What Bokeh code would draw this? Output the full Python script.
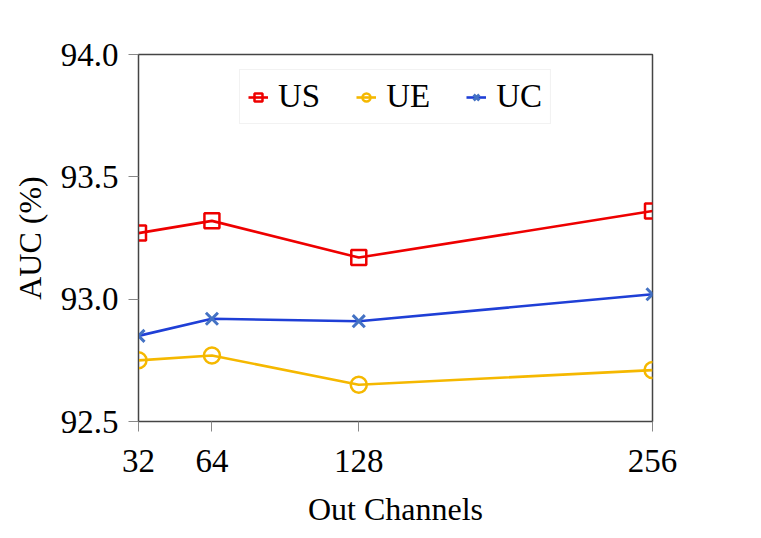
from bokeh.plotting import figure
from bokeh.models import Range1d, FixedTicker, Legend, LegendItem, CustomJSTickFormatter
from bokeh.embed import file_html
from bokeh.resources import INLINE

channels = [32, 64, 128, 256]
us = [93.27, 93.32, 93.17, 93.36]
ue = [92.75, 92.77, 92.65, 92.71]
uc = [92.85, 92.92, 92.91, 93.02]
y_ticks = [92.5, 93.0, 93.5, 94.0]

FONT = "Liberation Serif"

p = figure(width=745, height=530, output_backend="svg", toolbar_location=None,
           x_range=Range1d(32, 256), y_range=Range1d(92.5, 94.0),
           min_border_left=138, min_border_right=93, min_border_top=54, min_border_bottom=109)

p.outline_line_color = "#444444"
p.outline_line_width = 1.5
p.xgrid.visible = False
p.ygrid.visible = False
p.background_fill_color = "white"
p.border_fill_color = "white"

r1l = p.line(channels, us, line_color="#EE0000", line_width=2.6)
r1m = p.scatter(channels, us, marker="square", size=15, fill_color="white", fill_alpha=0,
                line_color="#EE0000", line_width=2.5)
r2l = p.line(channels, ue, line_color="#F5B800", line_width=2.6)
r2m = p.scatter(channels, ue, marker="circle", size=16, fill_color="white", fill_alpha=0,
                line_color="#F5B800", line_width=2.5)
r3l = p.line(channels, uc, line_color="#1F3FD6", line_width=2.6)
r3m = p.scatter(channels, uc, marker="x", size=17,
                line_color="#4472C4", line_width=3)

for ax in (p.xaxis[0], p.yaxis[0]):
    ax.major_label_text_font = FONT
    ax.major_label_text_font_size = "33px"
    ax.major_label_text_color = "black"
    ax.axis_label_text_font = FONT
    ax.axis_label_text_font_size = "32px"
    ax.axis_label_text_font_style = "normal"
    ax.axis_label_text_color = "black"
    ax.axis_line_color = "#444444"
    ax.major_tick_line_color = "#888888"
    ax.major_tick_in = 0
    ax.major_tick_out = 10
    ax.minor_tick_line_color = None

p.xaxis.ticker = FixedTicker(ticks=channels)
p.yaxis.ticker = FixedTicker(ticks=y_ticks)
p.yaxis.formatter = CustomJSTickFormatter(code="return tick.toFixed(1);")
p.xaxis.axis_label = "Out Channels"
p.yaxis.axis_label = "AUC (%)"
p.xaxis.major_label_standoff = 18
p.xaxis.axis_label_standoff = 16
p.yaxis.major_label_standoff = 10
p.yaxis.axis_label_standoff = 10

legend = Legend(items=[
    LegendItem(label="US", renderers=[r1l, r1m]),
    LegendItem(label="UE", renderers=[r2l, r2m]),
    LegendItem(label="UC", renderers=[r3l, r3m]),
], orientation="horizontal", location="top_center")
legend.label_text_font = FONT
legend.label_text_font_size = "33px"
legend.label_text_color = "black"
legend.border_line_color = "#E6E6E6"
legend.border_line_width = 1
legend.margin = 15
legend.padding = 8
legend.spacing = 36
legend.glyph_width = 20
legend.glyph_height = 32
legend.label_standoff = 10
legend.label_height = 32
p.add_layout(legend)

open("out.html", "w").write(file_html(p, INLINE))
